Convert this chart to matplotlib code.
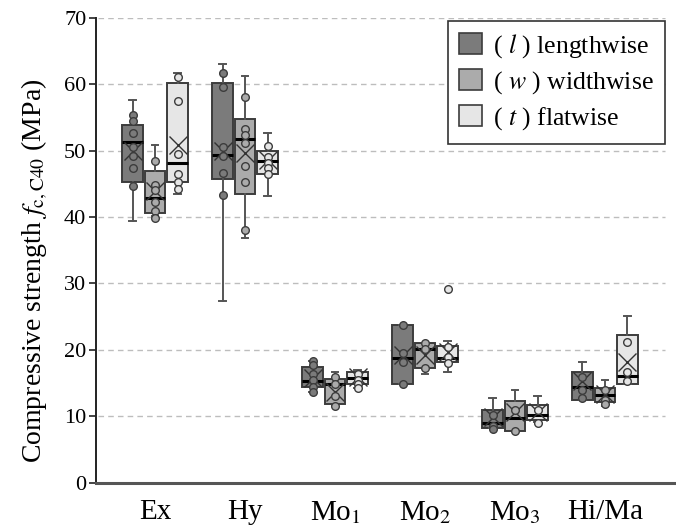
import matplotlib
matplotlib.use("Agg")
import matplotlib.pyplot as plt
from matplotlib.patches import Patch

plt.rcParams["font.family"] = "serif"
plt.rcParams["font.serif"] = ["Liberation Serif", "DejaVu Serif"]
plt.rcParams["mathtext.fontset"] = "stix"

groups = ["Ex", "Hy", "Mo$_1$", "Mo$_2$", "Mo$_3$", "Hi/Ma"]
orient = ["( $l$ ) lengthwise", "( $w$ ) widthwise", "( $t$ ) flatwise"]
colors = ["#7b7b7b", "#ababab", "#e6e6e6"]

# box statistics, one list per orientation (l, w, t)
l_lo = [39.4, 27.3, 13.6, 14.9, 8.3, 12.5]
l_q1 = [45.3, 45.7, 14.4, 14.9, 8.3, 12.5]
l_med = [51.3, 49.3, 15.3, 18.8, 9.0, 14.4]
l_q3 = [53.9, 60.1, 17.4, 23.8, 10.9, 16.7]
l_hi = [57.6, 63.1, 18.3, 23.8, 12.8, 18.2]
l_mean = [49.9, 50.0, 15.8, 19.2, 9.9, 15.3]
l_pts = [[55.3, 54.4, 52.7, 50.5, 49.2, 47.4, 44.7],
         [61.7, 59.5, 50.5, 49.2, 46.6, 43.3],
         [18.3, 17.7, 16.4, 15.5, 14.4, 13.6],
         [23.8, 19.5, 18.1, 14.9],
         [10.2, 8.6, 8.1],
         [15.9, 13.9, 12.8]]

w_lo = [40.2, 36.8, 11.5, 16.3, 7.8, 11.5]
w_q1 = [40.6, 43.5, 11.9, 17.2, 7.8, 12.2]
w_med = [42.9, 51.7, 14.8, 20.2, 9.8, 13.2]
w_q3 = [46.9, 54.8, 15.6, 21.0, 12.3, 14.3]
w_hi = [50.8, 61.2, 16.6, 21.0, 14.0, 15.5]
w_mean = [43.9, 49.7, 13.7, 19.2, 10.6, 13.3]
w_pts = [[48.5, 44.8, 44.0, 42.2, 40.9, 39.9],
         [58.0, 53.3, 52.3, 51.2, 47.7, 45.3, 38.0],
         [15.9, 14.9, 13.0, 11.5],
         [21.0, 20.1, 17.2],
         [10.9, 7.8],
         [13.9, 12.5, 11.9]]

t_lo = [43.5, 43.2, 14.3, 16.7, 9.2, 14.9]
t_q1 = [45.3, 46.5, 14.9, 18.2, 9.4, 14.9]
t_med = [48.2, 48.5, 15.8, 18.8, 10.2, 16.0]
t_q3 = [60.2, 49.9, 16.6, 20.6, 11.7, 22.2]
t_hi = [61.7, 52.6, 17.0, 21.3, 13.0, 25.1]
t_mean = [50.9, 48.6, 15.9, 19.7, 10.7, 18.2]
t_fliers = [[], [], [], [29.1], [], []]
t_pts = [[61.1, 57.4, 49.5, 46.4, 45.2, 44.2],
         [50.7, 49.0, 48.2, 47.3, 46.5],
         [16.4, 15.5, 14.9, 14.3],
         [20.5, 18.9, 18.0],
         [11.0, 9.0],
         [21.2, 16.7, 15.3]]

series = [
    (l_lo, l_q1, l_med, l_q3, l_hi, l_mean, [[]] * 6, l_pts),
    (w_lo, w_q1, w_med, w_q3, w_hi, w_mean, [[]] * 6, w_pts),
    (t_lo, t_q1, t_med, t_q3, t_hi, t_mean, t_fliers, t_pts),
]

fig = plt.figure(figsize=(6.76, 5.28), dpi=100)
ax = fig.add_axes([96 / 676, 1 - 482.7 / 528, 580 / 676, 465 / 528])

edge = "#3c3c3c"
off = 0.25
bw = 0.23
for k, (lo, q1, med, q3, hi, mean, fl, pts) in enumerate(series):
    stats = []
    for i in range(len(groups)):
        stats.append(dict(whislo=lo[i], q1=q1[i], med=med[i], q3=q3[i],
                          whishi=hi[i], mean=mean[i], fliers=fl[i]))
    pos = [i + (k - 1) * off for i in range(len(groups))]
    bp = ax.bxp(stats, positions=pos, widths=bw, patch_artist=True,
                showmeans=True, capwidths=0.07, manage_ticks=False,
                boxprops=dict(facecolor=colors[k], edgecolor=edge, linewidth=1.4),
                medianprops=dict(color="black", linewidth=2.2),
                whiskerprops=dict(color="#555555", linewidth=1.4),
                capprops=dict(color="#555555", linewidth=1.4),
                meanprops=dict(marker="x", markersize=13, markeredgecolor="#333333",
                               markeredgewidth=1.0),
                flierprops=dict(marker="o", markersize=5.5, markerfacecolor=colors[k],
                                markeredgecolor=edge, markeredgewidth=1.0))
    for i, p in enumerate(pts):
        ax.plot([pos[i]] * len(p), p, "o", ms=5.5, mfc=colors[k], mec=edge,
                mew=1.0, zorder=4)

ax.set_xlim(-0.656, 5.789)
ax.set_ylim(0, 70)
ax.hlines(range(10, 80, 10), -0.63, 5.67, colors="#bdbdbd", linewidth=1.0,
          linestyles=(0, (4, 3)), zorder=0)

ax.set_xticks(range(len(groups)))
ax.set_xticklabels(groups, fontsize=21)
ax.tick_params(axis="x", length=0, pad=12)
ax.set_yticks(range(0, 80, 10))
ax.tick_params(axis="y", labelsize=16, length=5, width=1.2, direction="out",
               color="#222222", pad=2)
ax.set_ylabel("Compressive strength $f_{\\mathrm{c,C40}}$ (MPa)", fontsize=20)
ax.yaxis.set_label_coords(-0.079, 0.455)

for s in ["top", "right"]:
    ax.spines[s].set_visible(False)
ax.spines["left"].set_color("#222222")
ax.spines["left"].set_linewidth(1.4)
ax.spines["bottom"].set_color("#555555")
ax.spines["bottom"].set_linewidth(2.2)

handles = [Patch(facecolor=c, edgecolor=edge, linewidth=1.2) for c in colors]
leg = fig.legend(handles, orient, loc="upper right",
                 bbox_to_anchor=(665 / 676, 1 - 20.7 / 528),
                 bbox_transform=fig.transFigure, borderaxespad=0,
                 fontsize=18.5, fancybox=False, framealpha=1, edgecolor="#333333",
                 handlelength=0.9, handleheight=0.9, handletextpad=0.4,
                 labelspacing=0.35, borderpad=0.45)
leg.get_frame().set_linewidth(1.2)

fig.savefig("out.png", dpi=100)
